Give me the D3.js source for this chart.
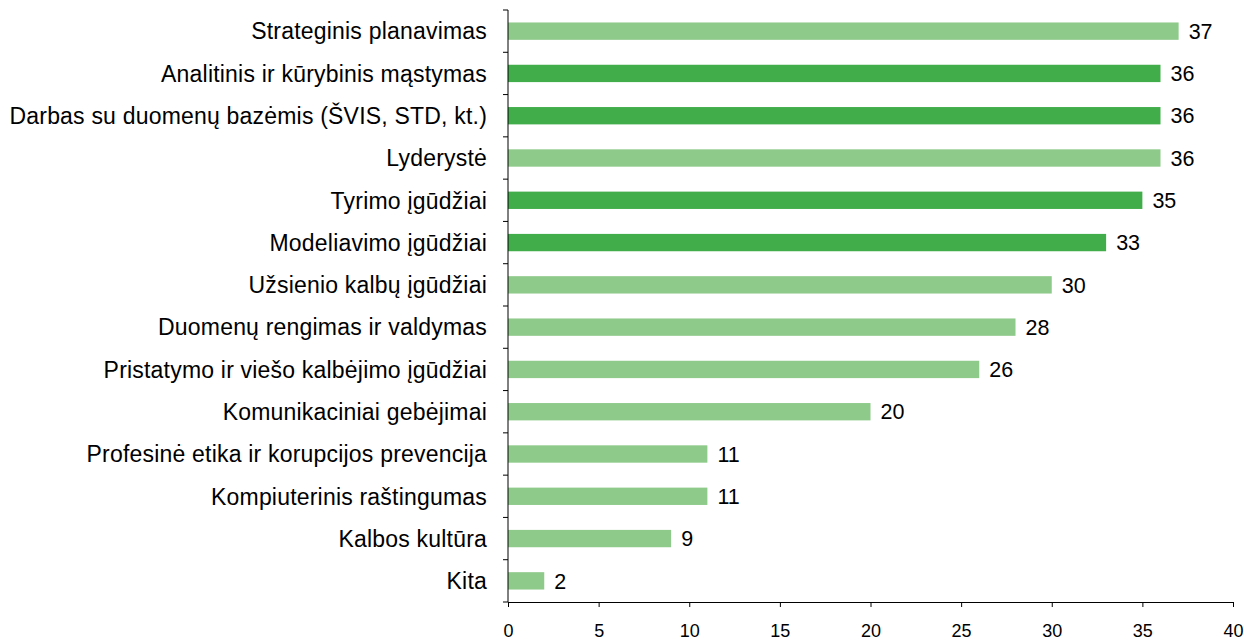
<!DOCTYPE html>
<html>
<head>
<meta charset="utf-8">
<script src="https://cdn.jsdelivr.net/npm/d3@7"></script>
<style>
  html, body { margin: 0; padding: 0; background: #fff; }
  svg { display: block; }
  svg text { font-family: "Liberation Sans", Arial, sans-serif; fill: #000; }
</style>
</head>
<body>
<svg id="chart"></svg>
<script>
const categories = [
  'Strateginis planavimas',
  'Analitinis ir kūrybinis mąstymas',
  'Darbas su duomenų bazėmis (ŠVIS, STD, kt.)',
  'Lyderystė',
  'Tyrimo įgūdžiai',
  'Modeliavimo įgūdžiai',
  'Užsienio kalbų įgūdžiai',
  'Duomenų rengimas ir valdymas',
  'Pristatymo ir viešo kalbėjimo įgūdžiai',
  'Komunikaciniai gebėjimai',
  'Profesinė etika ir korupcijos prevencija',
  'Kompiuterinis raštingumas',
  'Kalbos kultūra',
  'Kita'
];
const values = [37, 36, 36, 36, 35, 33, 30, 28, 26, 20, 11, 11, 9, 2];
const highlighted = [false, true, true, false, true, true, false, false, false, false, false, false, false, false];
const xTicks = [0, 5, 10, 15, 20, 25, 30, 35, 40];

const width = 1244, height = 641;
const margin = { top: 10, right: 11, bottom: 39, left: 508 };
const innerWidth = width - margin.left - margin.right;
const innerHeight = height - margin.top - margin.bottom;

const svg = d3.select('#chart').attr('width', width).attr('height', height);
const chart = svg.append('g').attr('transform', `translate(${margin.left},${margin.top})`);

const x = d3.scaleLinear().domain([0, 40]).range([0, innerWidth]);
const y = d3.scaleBand().domain(categories).range([0, innerHeight]).paddingInner(0.59).paddingOuter(0.295);

const data = categories.map((c, i) => ({ name: c, value: values[i], dark: highlighted[i] }));

// bars
chart.selectAll('rect.bar')
  .data(data)
  .enter()
  .append('rect')
  .attr('class', 'bar')
  .attr('x', 0)
  .attr('y', d => y(d.name))
  .attr('width', d => x(d.value))
  .attr('height', y.bandwidth())
  .attr('fill', d => d.dark ? '#41ad4a' : '#8eca89');

// value labels
chart.selectAll('text.val')
  .data(data)
  .enter()
  .append('text')
  .attr('class', 'val')
  .attr('x', d => x(d.value) + 10)
  .attr('y', d => y(d.name) + y.bandwidth() / 2)
  .attr('dy', '0.36em')
  .style('font-size', '21.5px')
  .text(d => d.value);

// y axis, ticks sit between the categories
const yAxis = chart.append('g');
yAxis.append('line')
  .attr('x1', 0).attr('x2', 0)
  .attr('y1', 0).attr('y2', innerHeight)
  .attr('stroke', '#000');
yAxis.selectAll('line.tick')
  .data(d3.range(categories.length + 1))
  .enter()
  .append('line')
  .attr('class', 'tick')
  .attr('x1', -5).attr('x2', 0)
  .attr('y1', i => i * innerHeight / categories.length)
  .attr('y2', i => i * innerHeight / categories.length)
  .attr('stroke', '#000');
yAxis.selectAll('text.cat')
  .data(data)
  .enter()
  .append('text')
  .attr('class', 'cat')
  .attr('x', -21)
  .attr('y', d => y(d.name) + y.bandwidth() / 2)
  .attr('dy', '0.36em')
  .attr('text-anchor', 'end')
  .style('font-size', '23px')
  .style('letter-spacing', '0.2px')
  .text(d => d.name);

// x axis
const xAxis = chart.append('g')
  .attr('transform', `translate(0,${innerHeight})`)
  .call(d3.axisBottom(x).tickValues(xTicks).tickSize(5).tickPadding(17).tickSizeOuter(0));
xAxis.select('path.domain').attr('stroke', '#000');
xAxis.selectAll('.tick line').attr('stroke', '#000');
xAxis.selectAll('.tick text')
  .style('font-size', '18px')
  .style('font-family', '"Liberation Sans", Arial, sans-serif')
  .attr('fill', '#000');
</script>
</body>
</html>
